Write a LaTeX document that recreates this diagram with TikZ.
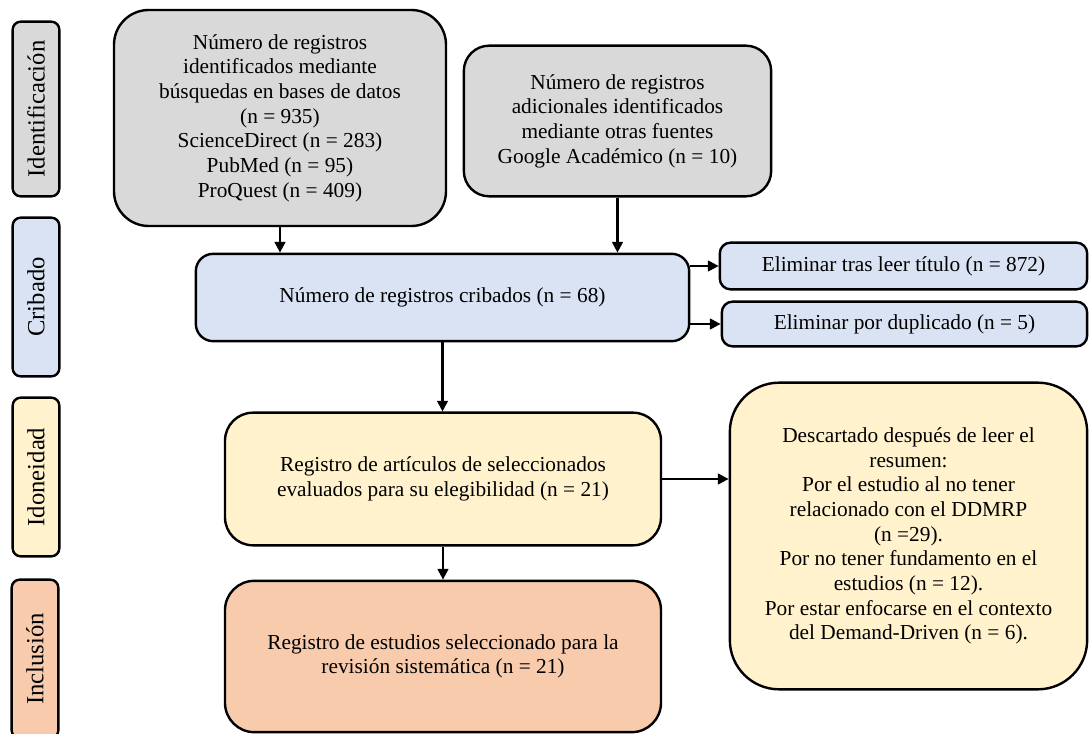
\documentclass[tikz,border=0pt]{standalone}
\usepackage{fontspec}
\setmainfont{Liberation Serif}
\usetikzlibrary{arrows.meta}
\definecolor{grisbox}{HTML}{D9D9D9}
\definecolor{azulbox}{HTML}{DAE3F3}
\definecolor{amarbox}{HTML}{FFF2CC}
\definecolor{naranbox}{HTML}{F8CBAD}
\begin{document}
\begin{tikzpicture}[x=0.75pt,y=-0.75pt,
  caja/.style={draw=black, line width=1.8pt, align=center, inner sep=2pt,
    font=\fontsize{16}{18.5}\selectfont},
  fase/.style={draw=black, line width=1.8pt, rounded corners=6pt, rotate=90,
    minimum height=35pt, inner sep=0pt, font=\fontsize{18.5}{20}\selectfont},
  flecha/.style={line width=1.6pt, -{Triangle[length=8pt,width=8pt]}}
]
\useasboundingbox (0,0) rectangle (1090,734);

% phase labels on the left
\node[fase, fill=grisbox, minimum width=131pt] (f1) at (36,109) {Identificación};
\node[fase, fill=azulbox, minimum width=119pt] (f2) at (36,297) {Cribado};
\node[fase, fill=amarbox, minimum width=119pt] (f3) at (36,477) {Idoneidad};
\node[fase, fill=naranbox, minimum width=119pt] (f4) at (35,659) {Inclusión};

% identification
\node[caja, fill=grisbox, rounded corners=26pt, minimum width=249pt, minimum height=162pt]
  (bd) at (280,118)
  {Número de registros\\ identificados mediante\\ búsquedas en bases de datos\\ (n = 935)\\
   ScienceDirect (n = 283)\\ PubMed (n = 95)\\ ProQuest (n = 409)};
\node[caja, fill=grisbox, rounded corners=19pt, minimum width=230.5pt, minimum height=113pt]
  (of) at (617.5,121)
  {Número de registros\\ adicionales identificados\\ mediante otras fuentes\\ Google Académico (n = 10)};

% screening
\node[caja, fill=azulbox, rounded corners=13pt, minimum width=370pt, minimum height=65.5pt]
  (cb) at (442.5,297.5) {Número de registros cribados (n = 68)};
\node[caja, fill=azulbox, rounded corners=8pt, minimum width=275.5pt, minimum height=35pt]
  (e1) at (903.5,266) {Eliminar tras leer título (n = 872)};
\node[caja, fill=azulbox, rounded corners=8pt, minimum width=274pt, minimum height=33.5pt]
  (e2) at (904.5,324) {Eliminar por duplicado (n = 5)};

% eligibility
\node[caja, fill=amarbox, rounded corners=21pt, minimum width=327pt, minimum height=99.5pt]
  (el) at (443,479)
  {Registro de artículos de seleccionados\\ evaluados para su elegibilidad (n = 21)};
\node[caja, fill=amarbox, rounded corners=37pt, minimum width=268pt, minimum height=230pt]
  (ds) at (908.5,536)
  {Descartado después de leer el\\ resumen:\\ Por el estudio al no tener\\
   relacionado con el DDMRP\\ (n =29).\\ Por no tener fundamento en el\\
   estudios (n = 12).\\ Por estar enfocarse en el contexto\\ del Demand-Driven (n = 6).};

% inclusion
\node[caja, fill=naranbox, rounded corners=22pt, minimum width=327pt, minimum height=113.5pt]
  (in) at (443,656.5)
  {Registro de estudios seleccionado para la\\ revisión sistemática (n = 21)};

% connectors
\draw[flecha] (bd.south) -- (bd.south |- cb.north);
\draw[flecha] (of.south) -- (of.south |- cb.north);
\draw[flecha] (cb.east |- e1.west) -- (e1.west);
\draw[flecha] (cb.east |- e2.west) -- (e2.west);
\draw[flecha] (cb.south) -- (cb.south |- el.north);
\draw[flecha] (el.east) -- (el.east -| ds.west);
\draw[flecha] (el.south) -- (el.south |- in.north);
\end{tikzpicture}
\end{document}
